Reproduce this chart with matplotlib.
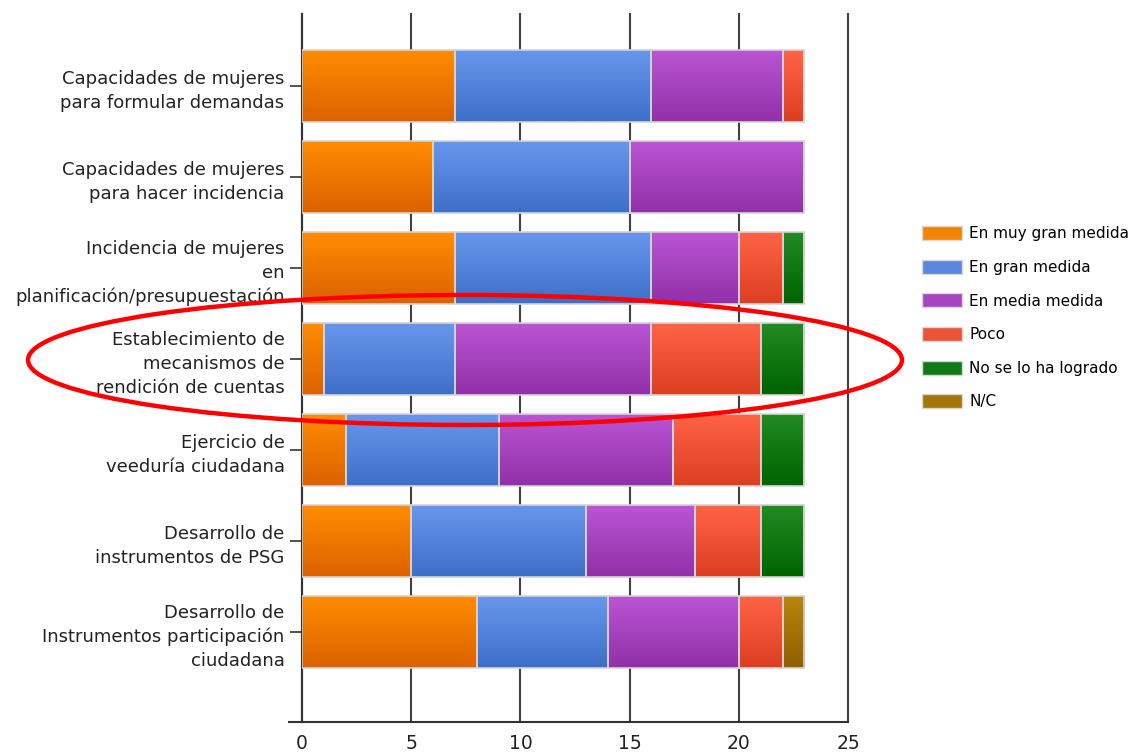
import numpy as np
from matplotlib import pyplot as plt
from matplotlib import colors as mcolors
from matplotlib.patches import Ellipse, Patch

categories = [
    "Capacidades de mujeres\npara formular demandas",
    "Capacidades de mujeres\npara hacer incidencia",
    "Incidencia de mujeres\nen\nplanificación/presupuestación",
    "Establecimiento de\nmecanismos de\nrendición de cuentas",
    "Ejercicio de\nveeduría ciudadana",
    "Desarrollo de\ninstrumentos de PSG",
    "Desarrollo de\nInstrumentos participación\nciudadana",
]
series_names = ["En muy gran medida", "En gran medida", "En media medida",
                "Poco", "No se lo ha logrado", "N/C"]
muy_gran = [7, 6, 7, 1, 2, 5, 8]
gran = [9, 9, 9, 6, 7, 8, 6]
media = [6, 8, 4, 9, 8, 5, 6]
poco = [1, 0, 2, 5, 4, 3, 2]
no_logrado = [0, 0, 1, 2, 2, 2, 0]
nc = [0, 0, 0, 0, 0, 0, 1]
series = [muy_gran, gran, media, poco, no_logrado, nc]

# top colour, bottom colour of the gradient
top_colors = ["#ff8c00", "#6896ec", "#ba55d3", "#ff6347", "#228b22", "#b8860b"]
bottom_colors = ["#dc6200", "#3e6fc8", "#9130a8", "#dc3f20", "#006400", "#8f6000"]
legend_colors = ["#f28400", "#5b87de", "#a844c4", "#ec5338", "#0f7a16", "#a47508"]

plt.rcParams["font.family"] = "DejaVu Sans"

fig = plt.figure(figsize=(11.28, 7.53), dpi=100)
ax = fig.add_axes([0.2677, 0.0412, 0.4841, 0.9402])

y = np.arange(len(categories))
left = np.zeros(len(categories))
for i, vals in enumerate(series):
    vals = np.array(vals, dtype=float)
    bars = ax.barh(y, vals, left=left, height=0.79, color="none",
                   edgecolor="#d4d4d4", linewidth=1.2, zorder=3)
    cmap = mcolors.LinearSegmentedColormap.from_list(
        "g%d" % i, [top_colors[i], bottom_colors[i]])
    grad = np.linspace(0, 1, 64).reshape(-1, 1)
    for rect in bars:
        w = rect.get_width()
        if w <= 0:
            continue
        x0 = rect.get_x()
        y0 = rect.get_y()
        h = rect.get_height()
        ax.imshow(grad, cmap=cmap, aspect="auto", zorder=2,
                  extent=(x0, x0 + w, y0 + h, y0), interpolation="bilinear")
    left += vals

ax.set_xlim(0, 25)
ax.set_ylim(6.99, -0.79)
ax.set_yticks(y)
ax.set_yticklabels(categories, fontsize=13, color="#222222", linespacing=1.42)
ax.set_xticks([0, 5, 10, 15, 20, 25])
ax.tick_params(axis="x", labelsize=13.5, length=0, pad=9, colors="#222222")
ax.tick_params(axis="y", length=8.5, width=1.2, color="#333333", pad=4)
ax.xaxis.grid(True, color="#404040", linewidth=1.5, zorder=1)
for gl in ax.get_xgridlines():
    gl.set_clip_on(False)
ax.set_axisbelow(True)
for s in ["top", "right"]:
    ax.spines[s].set_visible(False)
ax.spines["left"].set_color("#333333")
ax.spines["left"].set_linewidth(1.5)
ax.spines["bottom"].set_color("#333333")
ax.spines["bottom"].set_linewidth(1.5)
ax.spines["bottom"].set_bounds(-0.6, 25)
ax.spines["bottom"].set_clip_on(False)

handles = [Patch(facecolor=c, edgecolor="#d8d8d8") for c in legend_colors]
fig.legend(handles, series_names, loc="upper left",
           bbox_to_anchor=(0.812, 0.708), frameon=False, fontsize=11,
           handlelength=2.6, handleheight=1.05, handletextpad=0.5,
           labelspacing=1.2, borderaxespad=0)

ell = Ellipse((465 / 1128, 1 - 360 / 753), 874 / 1128, 130 / 753,
              transform=fig.transFigure, fill=False, edgecolor="#ff0000",
              linewidth=3.2, zorder=10)
fig.add_artist(ell)

fig.savefig("out.png", dpi=100)
